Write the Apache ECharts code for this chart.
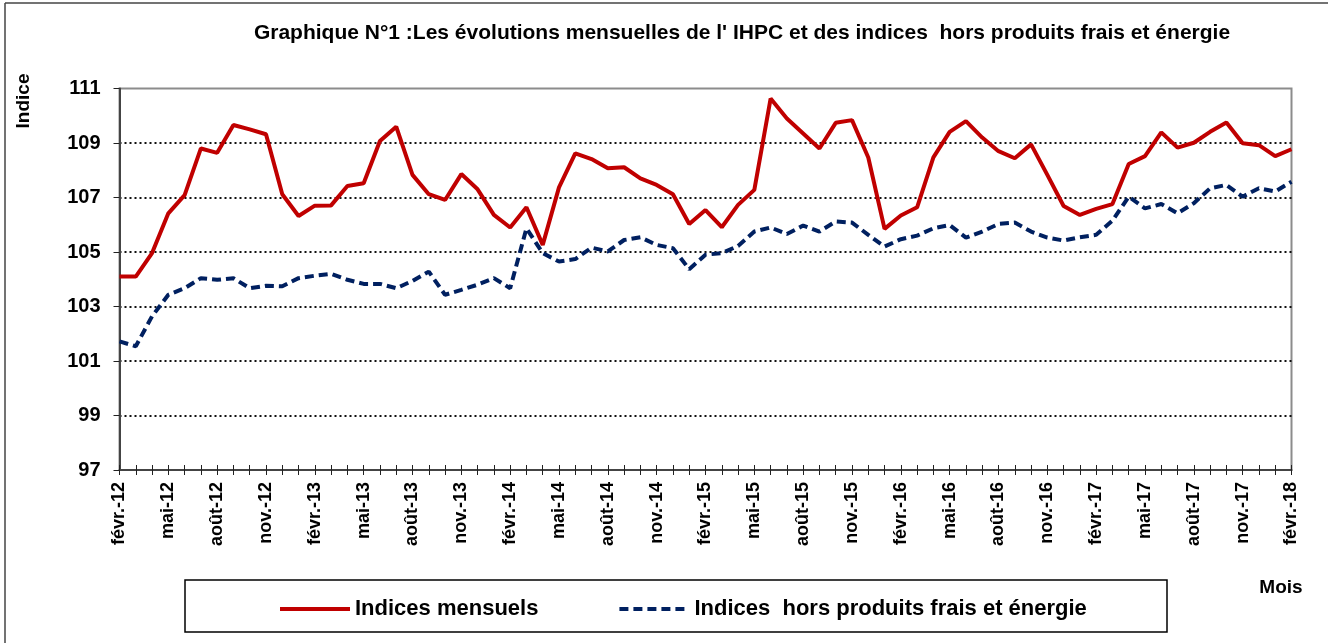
<!DOCTYPE html>
<html>
<head>
<meta charset="utf-8">
<script src="https://cdn.jsdelivr.net/npm/echarts@6/dist/echarts.min.js"></script>
<style>
  html, body { margin: 0; padding: 0; background: #fff; }
  #chart { width: 1328px; height: 643px; }
</style>
</head>
<body>
<div id="chart"></div>
<script>
// mois, de févr.-12 à févr.-18
var months = [
  'févr.-12', 'mars-12', 'avr.-12', 'mai-12', 'juin-12', 'juil.-12', 'août-12', 'sept.-12', 'oct.-12', 'nov.-12', 'déc.-12',
  'janv.-13', 'févr.-13', 'mars-13', 'avr.-13', 'mai-13', 'juin-13', 'juil.-13', 'août-13', 'sept.-13', 'oct.-13', 'nov.-13', 'déc.-13',
  'janv.-14', 'févr.-14', 'mars-14', 'avr.-14', 'mai-14', 'juin-14', 'juil.-14', 'août-14', 'sept.-14', 'oct.-14', 'nov.-14', 'déc.-14',
  'janv.-15', 'févr.-15', 'mars-15', 'avr.-15', 'mai-15', 'juin-15', 'juil.-15', 'août-15', 'sept.-15', 'oct.-15', 'nov.-15', 'déc.-15',
  'janv.-16', 'févr.-16', 'mars-16', 'avr.-16', 'mai-16', 'juin-16', 'juil.-16', 'août-16', 'sept.-16', 'oct.-16', 'nov.-16', 'déc.-16',
  'janv.-17', 'févr.-17', 'mars-17', 'avr.-17', 'mai-17', 'juin-17', 'juil.-17', 'août-17', 'sept.-17', 'oct.-17', 'nov.-17', 'déc.-17',
  'janv.-18', 'févr.-18'
];

var indicesMensuels = [
  104.10, 104.10, 104.96, 106.42, 107.09, 108.80, 108.64, 109.66, 109.50, 109.32, 107.12,
  106.32, 106.70, 106.71, 107.42, 107.52, 109.07, 109.60, 107.83, 107.12, 106.91, 107.86, 107.30,
  106.36, 105.90, 106.64, 105.26, 107.37, 108.62, 108.41, 108.07, 108.11, 107.70, 107.46, 107.12,
  106.03, 106.54, 105.91, 106.73, 107.28, 110.63, 109.90, 109.35, 108.80, 109.74, 109.84, 108.47,
  105.85, 106.34, 106.64, 108.47, 109.41, 109.80, 109.20, 108.70, 108.44, 108.95, 107.83, 106.69,
  106.36, 106.58, 106.76, 108.23, 108.52, 109.39, 108.83, 109.01, 109.41, 109.75, 108.99, 108.92,
  108.52, 108.77
];

var indicesHorsFraisEnergie = [
  101.72, 101.54, 102.64, 103.43, 103.67, 104.04, 103.98, 104.04, 103.67, 103.76, 103.74,
  104.04, 104.13, 104.20, 103.98, 103.83, 103.83, 103.67, 103.94, 104.28, 103.43, 103.61, 103.80,
  104.04, 103.67, 105.87, 104.96, 104.65, 104.74, 105.16, 105.02, 105.44, 105.54, 105.26, 105.14,
  104.37, 104.90, 104.96, 105.22, 105.75, 105.90, 105.66, 105.97, 105.75, 106.12, 106.08, 105.63,
  105.20, 105.47, 105.60, 105.87, 105.99, 105.53, 105.75, 106.03, 106.08, 105.75, 105.53, 105.42,
  105.54, 105.63, 106.15, 107.03, 106.60, 106.76, 106.42, 106.79, 107.34, 107.46, 107.03, 107.34,
  107.22, 107.58
];

var font = 'Liberation Sans';

var chart = echarts.init(document.getElementById('chart'));

var option = {
  backgroundColor: '#ffffff',
  animation: false,
  grid: {
    left: 119.5,
    right: 36.5,
    top: 88.5,
    bottom: 173,
    show: true,
    borderColor: '#8c8c8c',
    borderWidth: 2
  },
  legend: {
    left: 273,
    top: 593,
    itemWidth: 70,
    itemHeight: 24,
    itemGap: 79,
    textStyle: { fontFamily: font, fontWeight: 'bold', fontSize: 22, color: '#000' },
    lineStyle: { width: 4 },
    itemStyle: { opacity: 0 },
    data: ['Indices mensuels', 'Indices  hors produits frais et énergie']
  },
  xAxis: [{
    type: 'category',
    boundaryGap: false,
    data: months,
    axisLine: { lineStyle: { color: '#444', width: 2 } },
    axisTick: { interval: 0, length: 5, lineStyle: { color: '#222' } },
    axisLabel: {
      interval: 2,
      rotate: 90,
      margin: 12,
      fontFamily: font,
      fontWeight: 'bold',
      fontSize: 18,
      color: '#000'
    },
    splitLine: { show: false }
  }, {
    type: 'category',
    boundaryGap: false,
    data: months,
    position: 'bottom',
    axisLine: { show: false },
    axisTick: { inside: true, interval: 0, length: 5, lineStyle: { color: '#222' } },
    axisLabel: { show: false },
    splitLine: { show: false }
  }],
  yAxis: {
    type: 'value',
    min: 97,
    max: 111,
    interval: 2,
    axisLine: { show: true, lineStyle: { color: '#444', width: 2 } },
    axisTick: { show: true, length: 6, lineStyle: { color: '#222' } },
    axisLabel: {
      margin: 19,
      fontFamily: font,
      fontWeight: 'bold',
      fontSize: 20,
      color: '#000'
    },
    splitLine: {
      show: true,
      showMinLine: false,
      showMaxLine: false,
      lineStyle: { color: '#111', width: 2, type: [2, 3] }
    }
  },
  series: [{
    name: 'Indices mensuels',
    type: 'line',
    symbol: 'none',
    data: indicesMensuels,
    lineStyle: { color: '#C00000', width: 4 },
    itemStyle: { color: '#C00000' },
    z: 3
  }, {
    name: 'Indices  hors produits frais et énergie',
    type: 'line',
    symbol: 'none',
    data: indicesHorsFraisEnergie,
    lineStyle: { color: '#002060', width: 4, type: [9, 5] },
    itemStyle: { color: '#002060' },
    z: 2
  }],
  graphic: [{
    type: 'rect',
    shape: { x: 185, y: 580, width: 982, height: 52 },
    style: { fill: 'none', stroke: '#000', lineWidth: 1.5 },
    z: 0
  }, {
    type: 'line',
    shape: { x1: 5, y1: 3, x2: 1328, y2: 3 },
    style: { stroke: '#444', lineWidth: 1.5 }
  }, {
    type: 'line',
    shape: { x1: 5, y1: 3, x2: 5, y2: 643 },
    style: { stroke: '#444', lineWidth: 1.5 }
  }, {
    type: 'text',
    x: 742,
    y: 33,
    style: {
      text: "Graphique N°1 :Les évolutions mensuelles de l' IHPC et des indices  hors produits frais et énergie",
      fontFamily: font,
      fontWeight: 'bold',
      fontSize: 21,
      fill: '#000',
      textAlign: 'center',
      textVerticalAlign: 'middle'
    }
  }, {
    type: 'text',
    x: 24,
    y: 101,
    rotation: Math.PI / 2,
    style: {
      text: 'Indice',
      fontFamily: font,
      fontWeight: 'bold',
      fontSize: 19,
      fill: '#000',
      textAlign: 'center',
      textVerticalAlign: 'middle'
    }
  }, {
    type: 'text',
    x: 1281,
    y: 588,
    style: {
      text: 'Mois',
      fontFamily: font,
      fontWeight: 'bold',
      fontSize: 19,
      fill: '#000',
      textAlign: 'center',
      textVerticalAlign: 'middle'
    }
  }]
};

chart.setOption(option);
</script>
</body>
</html>
